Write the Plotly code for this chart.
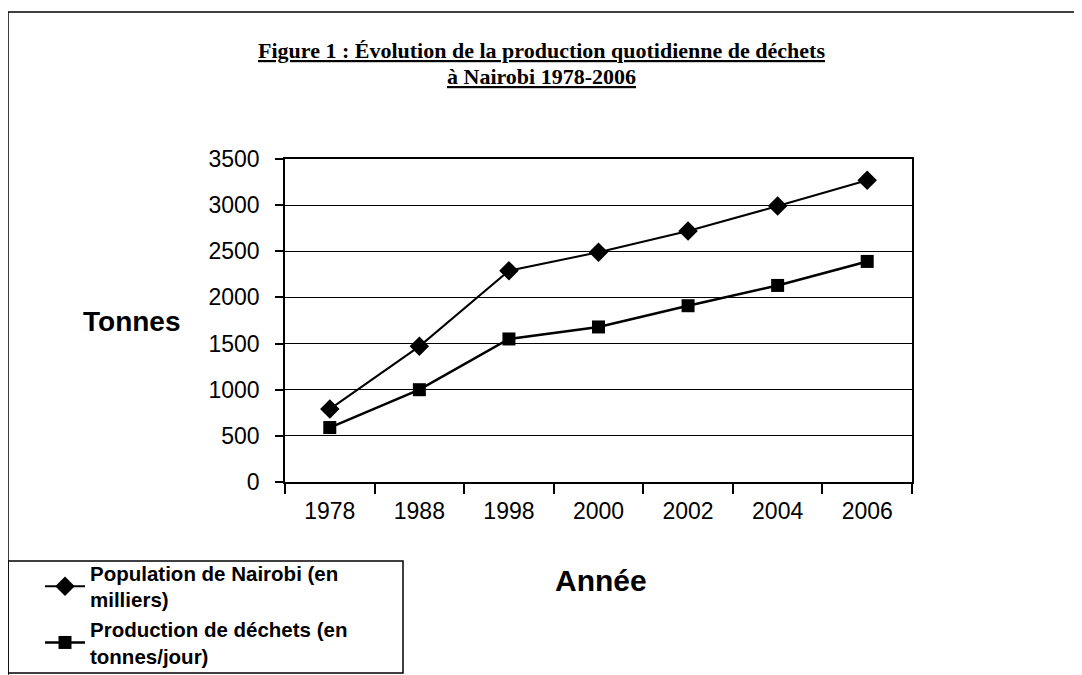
import plotly.graph_objects as go

years = ["1978", "1988", "1998", "2000", "2002", "2004", "2006"]
population = [790, 1470, 2290, 2490, 2720, 2990, 3270]
dechets = [590, 1000, 1550, 1680, 1910, 2130, 2390]
name_pop = "Population de Nairobi (en<br>milliers)"
name_dec = "Production de déchets (en<br>tonnes/jour)"
y_ticks = [0, 500, 1000, 1500, 2000, 2500, 3000, 3500]

OFF = 8  # page body margin
W, H = 1082 - OFF, 675 - OFF
L, R, T, B = 285 - OFF, 912 - OFF, 159 - OFF, 482 - OFF


def px(x):
    return (x - OFF - L) / (R - L)


def py(y):
    return (B - (y - OFF)) / (B - T)


fig = go.Figure()
fig.add_trace(go.Scatter(
    x=years, y=population, name=name_pop, mode="lines+markers",
    line=dict(color="black", width=2),
    marker=dict(symbol="diamond", size=15, color="black"),
))
fig.add_trace(go.Scatter(
    x=years, y=dechets, name=name_dec, mode="lines+markers",
    line=dict(color="black", width=2.5),
    marker=dict(symbol="square", size=13, color="black"),
))

fig.update_layout(
    width=W, height=H,
    margin=dict(l=L, r=W - R, t=T, b=H - B, autoexpand=False),
    paper_bgcolor="white", plot_bgcolor="white",
    font=dict(family="Liberation Sans, Arial, sans-serif", color="black"),
    showlegend=True,
    legend=dict(
        x=px(40), y=py(553), xanchor="left", yanchor="top",
        bgcolor="rgba(0,0,0,0)", borderwidth=0,
        font=dict(size=20.5, family="Liberation Sans, Arial, sans-serif", weight="bold"),
        tracegroupgap=0, itemwidth=40,
    ),
    xaxis=dict(
        type="category", range=[-0.5, 6.5],
        showline=True, linecolor="black", linewidth=1.5, mirror=True,
        ticks="outside", tickson="boundaries", ticklen=10, tickcolor="black",
        tickwidth=1.5, showgrid=False,
        tickfont=dict(size=23), ticklabelstandoff=8,
    ),
    yaxis=dict(
        range=[0, 3500], tickvals=y_ticks,
        showline=True, linecolor="black", linewidth=1.5, mirror=True,
        ticks="outside", ticklen=8, tickcolor="black", tickwidth=1.5,
        showgrid=True, gridcolor="black", gridwidth=1.3,
        zeroline=False, tickfont=dict(size=23), ticklabelstandoff=11,
    ),
)

# Texts
fig.add_annotation(
    x=px(541), y=py(50), xref="paper", yref="paper", showarrow=False,
    text="<u>Figure 1 : Évolution de la production quotidienne de déchets</u>",
    font=dict(family="Liberation Serif, Times New Roman, serif", size=22, weight="bold"),
    xanchor="center", yanchor="middle",
)
fig.add_annotation(
    x=px(541), y=py(77), xref="paper", yref="paper", showarrow=False,
    text="<u>à Nairobi 1978-2006</u>",
    font=dict(family="Liberation Serif, Times New Roman, serif", size=22, weight="bold"),
    xanchor="center", yanchor="middle",
)
fig.add_annotation(
    x=px(131), y=py(321), xref="paper", yref="paper", showarrow=False,
    text="Tonnes", font=dict(size=28, weight="bold"),
    xanchor="center", yanchor="middle",
)
fig.add_annotation(
    x=px(601), y=py(580), xref="paper", yref="paper", showarrow=False,
    text="Année", font=dict(size=30, weight="bold"),
    xanchor="center", yanchor="middle",
)

# Frame lines and legend box
fig.add_shape(type="line", xref="paper", yref="paper",
              x0=px(8), x1=px(1082), y0=py(12), y1=py(12),
              line=dict(color="black", width=1.5))
fig.add_shape(type="line", xref="paper", yref="paper",
              x0=px(8), x1=px(8), y0=py(12), y1=py(675),
              line=dict(color="black", width=1.5))
fig.add_shape(type="rect", xref="paper", yref="paper",
              x0=px(8), x1=px(403), y0=py(561), y1=py(673),
              line=dict(color="black", width=1.5))

fig.write_html("out.html")
